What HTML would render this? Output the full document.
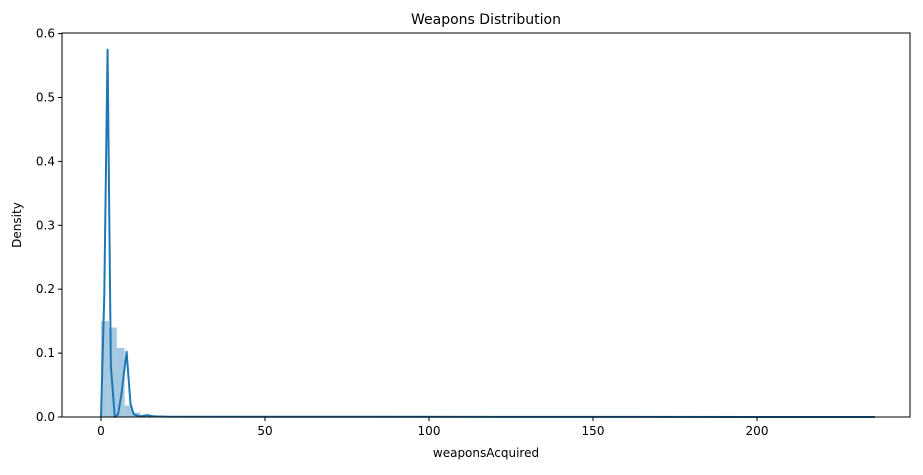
<!DOCTYPE html>
<html><head><meta charset="utf-8"><style>
body{margin:0;background:#fff;font-family:"Liberation Sans","DejaVu Sans",sans-serif;}
svg text{font-family:"DejaVu Sans","Liberation Sans",sans-serif;fill:#000;}
</style></head><body>
<svg id="chart" width="923" height="470" xmlns="http://www.w3.org/2000/svg">
<rect width="923" height="470" fill="#fff"/>
<g id="bars"></g><g id="kde"></g><g id="axes"></g>
</svg>
<script>
const binStart = [0, 2.4, 4.8, 7.2, 9.6, 12, 14.4, 16.8];
const binWidth = 2.4;
const binDensity = [0.150, 0.140, 0.108, 0.018, 0.007, 0.002, 0.003, 0.001];
const kdeX = [0, 1, 2, 3, 4.2, 5.2, 6.2, 7.8, 9, 10, 12, 14, 16, 20, 236];
const kdeY = [0, 0.19, 0.575, 0.08, 0, 0.004, 0.035, 0.102, 0.02, 0.004, 0.001, 0.003, 0.001, 0.0005, 0];
const xTicks = [0, 50, 100, 150, 200];
const yTicks = [0.0, 0.1, 0.2, 0.3, 0.4, 0.5, 0.6];
const L=62,R=910,T=33,B=417;
const x = v => 101 + v*3.28;
const y = v => 417 - v*639;
const NS="http://www.w3.org/2000/svg";
function mk(tag, attrs, parent){const e=document.createElementNS(NS,tag);for(const k in attrs)e.setAttribute(k,attrs[k]);parent.appendChild(e);return e;}
const bars=document.getElementById('bars');
binStart.forEach((s,i)=>{
  const r=mk('rect',{x:x(s),y:y(binDensity[i]),width:x(s+binWidth)-x(s),height:B-y(binDensity[i]),fill:'#1f77b4','fill-opacity':0.4},bars);
  
  
});
const kde=document.getElementById('kde');
const p=mk('polyline',{points:kdeX.map((v,i)=>x(v)+','+y(kdeY[i])).join(' '),fill:'none',stroke:'#1f77b4','stroke-width':2,'stroke-linejoin':'round'},kde);


const ax=document.getElementById('axes');
const fr=mk('rect',{x:L,y:T,width:R-L,height:B-T,fill:'none',stroke:'#000','stroke-width':1},ax);


xTicks.forEach(v=>{
  mk('line',{x1:x(v),x2:x(v),y1:B,y2:B+4,stroke:'#000'},ax);
  const t=mk('text',{x:x(v),y:B+18,'text-anchor':'middle','font-size':12},ax);t.textContent=v;
  
  
});
yTicks.forEach(v=>{
  mk('line',{x1:L-4,x2:L,y1:y(v),y2:y(v),stroke:'#000'},ax);
  const t=mk('text',{x:L-7,y:y(v)+4,'text-anchor':'end','font-size':12},ax);t.textContent=v.toFixed(1);
  
  
});
let t=mk('text',{x:486,y:24,'text-anchor':'middle','font-size':14},ax);t.textContent='Weapons Distribution';


t=mk('text',{x:486,y:457,'text-anchor':'middle','font-size':12},ax);t.textContent='weaponsAcquired';


t=mk('text',{x:21,y:225,'text-anchor':'middle','font-size':12,transform:'rotate(-90 21 225)'},ax);t.textContent='Density';


</script>
</body></html>
